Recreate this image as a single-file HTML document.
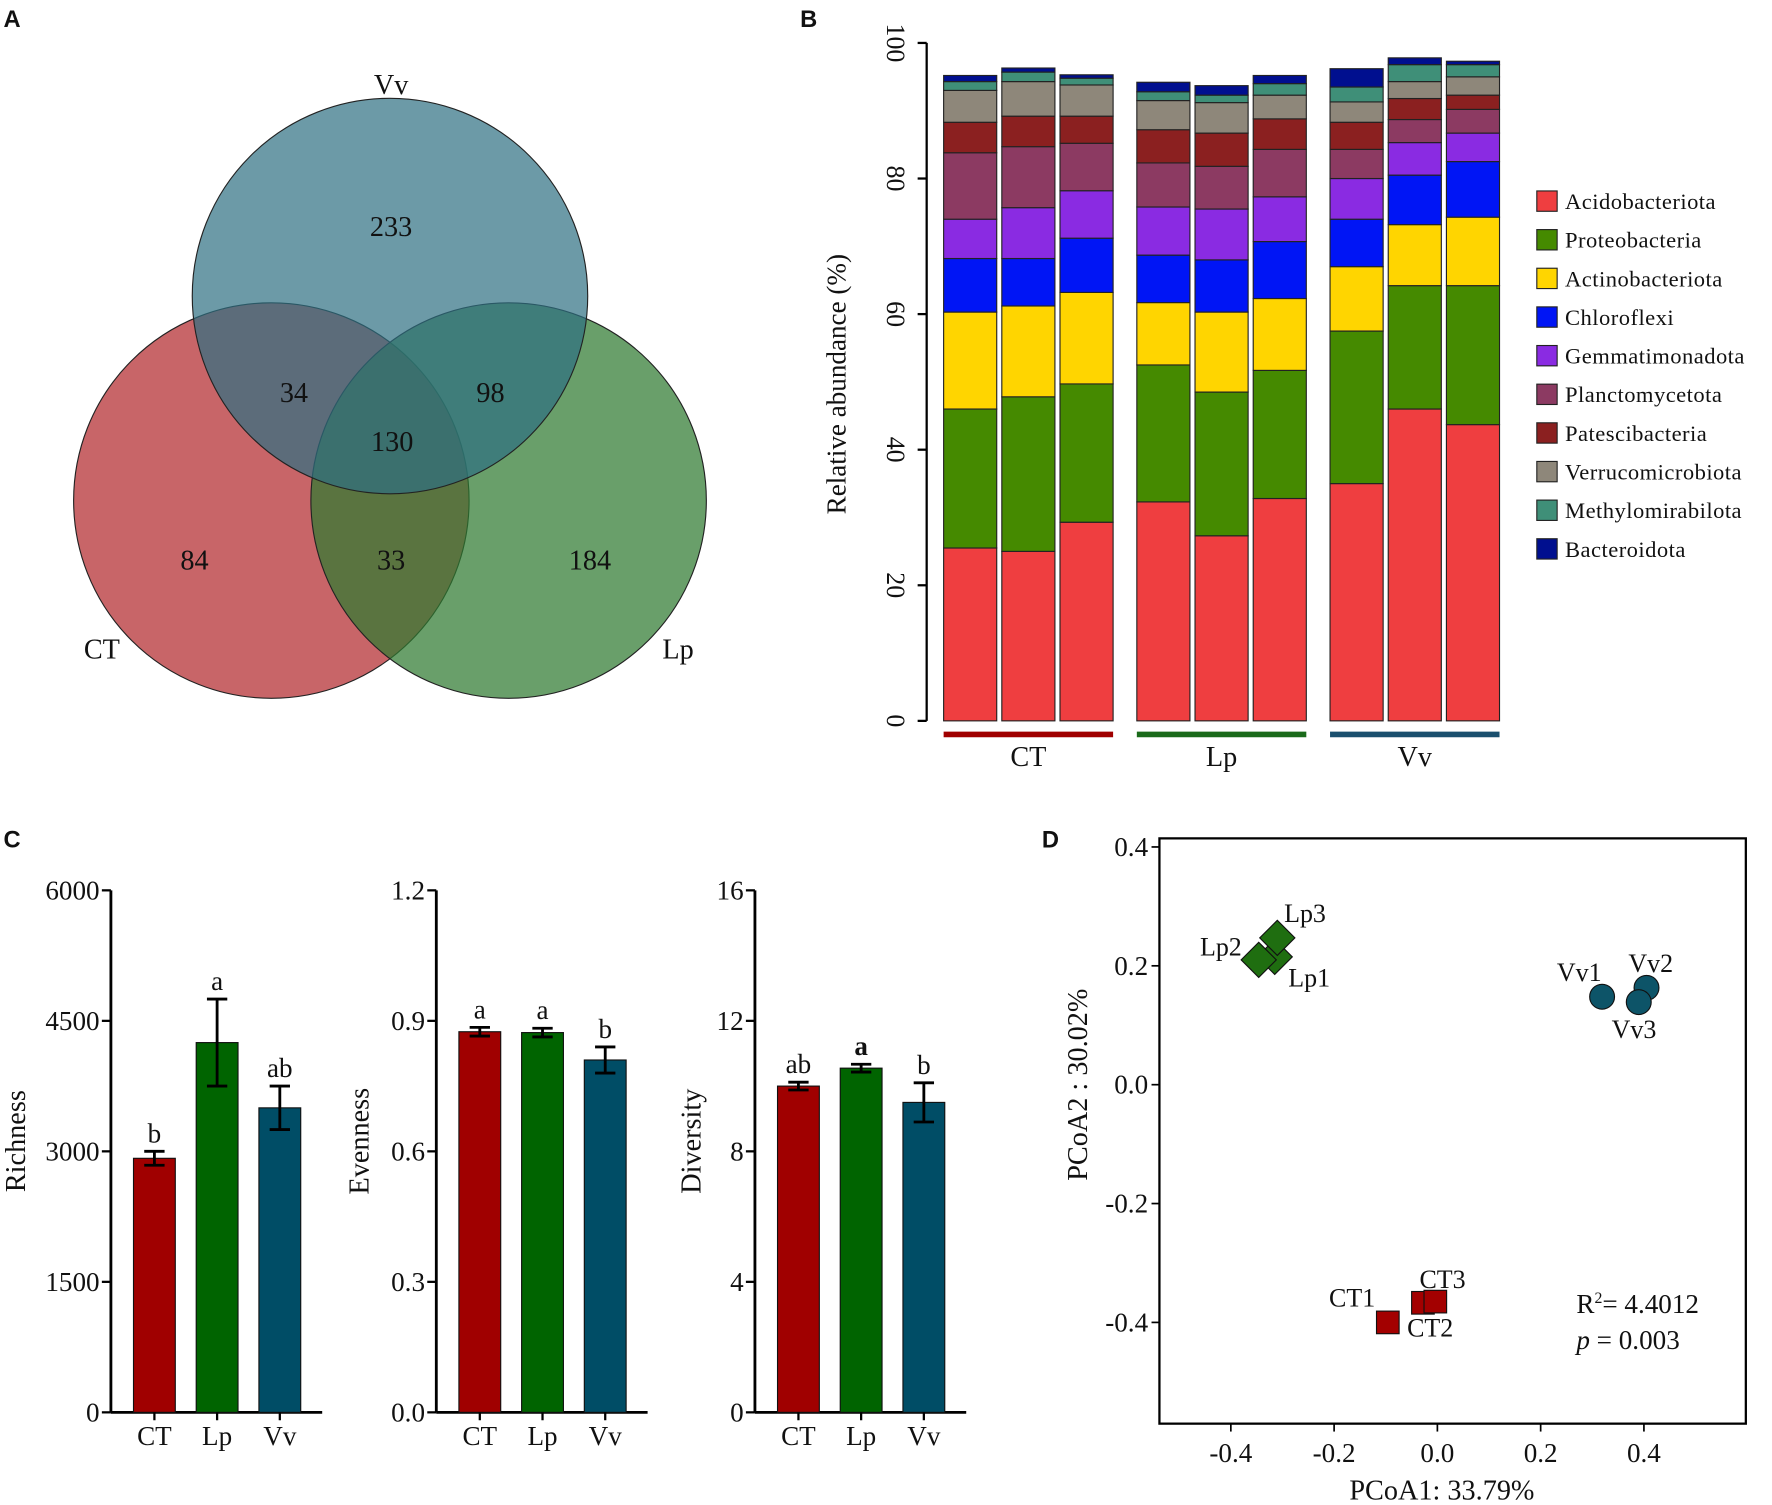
<!DOCTYPE html>
<html><head><meta charset="utf-8"><style>
html,body{margin:0;padding:0;background:#fff}
svg{display:block}
text{font-family:"Liberation Serif",serif;fill:#111}
.lbl{font-family:"Liberation Sans",sans-serif;font-weight:bold;font-size:21px}
</style></head><body>
<svg id="fig" xmlns="http://www.w3.org/2000/svg" width="1772" height="1505" viewBox="0 0 1568 1332">
<text class="lbl" x="3" y="24">A</text>
<text class="lbl" x="708" y="24">B</text>
<text class="lbl" x="3" y="750">C</text>
<text class="lbl" x="922" y="750">D</text>
<g id="venn">
<circle cx="240" cy="443" r="175" fill="#b93a3e" fill-opacity="0.78" stroke="#222" stroke-width="1"/>
<circle cx="450" cy="443" r="175" fill="#2f7a30" fill-opacity="0.72" stroke="#222" stroke-width="1"/>
<circle cx="345" cy="262" r="175" fill="#2e6f82" fill-opacity="0.7" stroke="#222" stroke-width="1"/>
<g font-size="25" text-anchor="middle">
<text x="346" y="209">233</text>
<text x="260" y="356">34</text>
<text x="434" y="356">98</text>
<text x="347" y="399">130</text>
<text x="172" y="504">84</text>
<text x="346" y="504">33</text>
<text x="522" y="504">184</text>
<text x="346" y="83">Vv</text>
<text x="90" y="583">CT</text>
<text x="600" y="583">Lp</text>
</g></g>
<g id="pb"></g>
<g id="pc"></g>
<g id="pd"></g>
</svg>
<script>
const NS="http://www.w3.org/2000/svg";
function mk(p,t,a,txt){const e=document.createElementNS(NS,t);for(const k in a)e.setAttribute(k,a[k]);if(txt!==undefined)e.textContent=txt;p.appendChild(e);return e;}
// ---- Panel B data ----
const phyla=["Acidobacteriota","Proteobacteria","Actinobacteriota","Chloroflexi","Gemmatimonadota","Planctomycetota","Patescibacteria","Verrucomicrobiota","Methylomirabilota","Bacteroidota"];
const phylaColors=["#ef3e40","#458a00","#ffd500","#0015f5","#8a2be2","#8c3a62","#8b2020","#8e877a","#3f8f78","#000f8f"];
const samples=["CT1","CT2","CT3","Lp1","Lp2","Lp3","Vv1","Vv2","Vv3"];
const sCT1=[25.5,20.5,14.3,7.9,5.8,9.8,4.5,4.7,1.3,0.9];
const sCT2=[25,22.8,13.4,7,7.5,9,4.5,5.1,1.4,0.6];
const sCT3=[29.3,20.4,13.5,8,7,7,4,4.6,1,0.5];
const sLp1=[32.3,20.2,9.2,7,7.1,6.5,4.9,4.3,1.3,1.4];
const sLp2=[27.3,21.2,11.8,7.7,7.5,6.3,4.9,4.5,1.1,1.4];
const sLp3=[32.8,18.9,10.6,8.4,6.6,7,4.5,3.5,1.7,1.2];
const sVv1=[35,22.5,9.5,7,6,4.3,4,3,2.2,2.7];
const sVv2=[46,18.2,9,7.3,4.8,3.4,3.1,2.5,2.5,1];
const sVv3=[43.7,20.5,10.1,8.2,4.2,3.5,2.1,2.7,1.8,0.5];
const stackData=[sCT1,sCT2,sCT3,sLp1,sLp2,sLp3,sVv1,sVv2,sVv3];
const bTicks=[0,20,40,60,80,100];
const groups=["CT","Lp","Vv"];
const groupColors=["#a00000","#1a6a1a","#1a4f6e"];
// ---- Panel C data ----
const alphaCats=["CT","Lp","Vv"];
const richness=[2920,4250,3500];const richErr=[80,500,250];const richLetters=["b","a","ab"];const richTicks=[0,1500,3000,4500,6000];
const evenness=[0.875,0.873,0.81];const evenErr=[0.01,0.01,0.03];const evenLetters=["a","a","b"];const evenTicks=[0,0.3,0.6,0.9,1.2];
const diversity=[10.0,10.55,9.5];const divErr=[0.12,0.12,0.6];const divLetters=["ab","a","b"];const divTicks=[0,4,8,12,16];
const alphaColors=["#a00000","#006400","#004d66"];
// ---- Panel D data ----
const pcoaNames=["Lp1","Lp2","Lp3","Vv1","Vv2","Vv3","CT1","CT2","CT3"];
const pcoaX=[-0.315,-0.346,-0.31,0.319,0.405,0.39,-0.096,-0.028,-0.004];
const pcoaY=[0.215,0.21,0.247,0.148,0.163,0.139,-0.40,-0.367,-0.365];
const pxTicks=[-0.4,-0.2,0.0,0.2,0.4];const pyTicks=[-0.4,-0.2,0.0,0.2,0.4];

// ===== Panel B =====
(function(){
const g=document.getElementById('pb');
const y0=638,y100=38,ax=820;
const yS=v=>y0-(v/100)*(y0-y100);
const bw=47;
const bx=i=>835+Math.floor(i/3)*171+(i%3)*51.5;
mk(g,'line',{x1:ax,y1:y100,x2:ax,y2:y0,stroke:'#000','stroke-width':2});
bTicks.forEach(t=>{const y=yS(t);mk(g,'line',{x1:ax-8,y1:y,x2:ax,y2:y,stroke:'#000','stroke-width':2});
 const tx=mk(g,'text',{x:790,y:y,'font-size':23,'text-anchor':'middle',transform:`rotate(90 790 ${y})`,'dominant-baseline':'middle'},String(t));
 });
const yt=mk(g,'text',{x:748,y:340,'font-size':24,'text-anchor':'middle',transform:'rotate(-90 748 340)'},'Relative abundance (%)');

stackData.forEach((vals,i)=>{let cum=0;vals.forEach((v,j)=>{const r=mk(g,'rect',{x:bx(i),y:yS(cum+v),width:bw,height:yS(cum)-yS(cum+v),fill:phylaColors[j],stroke:'#222','stroke-width':1});
 cum+=v;});});
groups.forEach((gr,k)=>{const x1=bx(k*3),x2=bx(k*3+2)+bw;
 const l=mk(g,'line',{x1:x1,y1:650,x2:x2,y2:650,stroke:groupColors[k],'stroke-width':5});
 const t=mk(g,'text',{x:(x1+x2)/2,y:678,'font-size':25,'text-anchor':'middle'},gr);});
phyla.forEach((p,j)=>{const y=178+j*34.2;
 const r=mk(g,'rect',{x:1360,y:y-9,width:18,height:18,fill:phylaColors[j],stroke:'#222','stroke-width':1});
 const t=mk(g,'text',{x:1385,y:y+7,'font-size':20,'letter-spacing':'0.4'},p);});
})();

// ===== Panel C =====
function alphaChart(ax,vals,errs,letters,ticks,title,tname,boldIdx,titleX){
 const g=document.getElementById('pc');
 const yb=1250,yt=788,max=ticks[ticks.length-1];
 const yS=v=>yb-(v/max)*(yb-yt);
 mk(g,'line',{x1:ax,y1:yt,x2:ax,y2:yb,stroke:'#000','stroke-width':2.5});
 mk(g,'line',{x1:ax,y1:yb,x2:ax+187,y2:yb,stroke:'#000','stroke-width':2.5});
 ticks.forEach(t=>{const y=yS(t);mk(g,'line',{x1:ax-8,y1:y,x2:ax,y2:y,stroke:'#000','stroke-width':2});
  const s=(max<=2)?t.toFixed(1):String(t);
  const e=mk(g,'text',{x:ax-10,y:y+8,'font-size':24,'text-anchor':'end'},s);});
 const tt=mk(g,'text',{x:titleX,y:1010,'font-size':25,'text-anchor':'middle',transform:`rotate(-90 ${titleX} 1010)`},title);
 
 vals.forEach((v,i)=>{const x=ax+20+i*55.5,w=37,cx=x+w/2;
  const r=mk(g,'rect',{x:x,y:yS(v),width:w,height:yb-yS(v),fill:alphaColors[i],stroke:'#111','stroke-width':1});
  
  const hi=yS(v+errs[i]),lo=yS(v-errs[i]);
  mk(g,'line',{x1:cx,y1:hi,x2:cx,y2:lo,stroke:'#000','stroke-width':2.5});
  mk(g,'line',{x1:cx-9,y1:hi,x2:cx+9,y2:hi,stroke:'#000','stroke-width':2.5});
  mk(g,'line',{x1:cx-9,y1:lo,x2:cx+9,y2:lo,stroke:'#000','stroke-width':2.5});
  const l=mk(g,'text',{x:cx,y:hi-8,'font-size':24,'text-anchor':'middle','font-weight':(i===boldIdx?'bold':'normal')},letters[i]);
  
  mk(g,'line',{x1:cx,y1:yb,x2:cx,y2:yb+7,stroke:'#000','stroke-width':2});
  const c=mk(g,'text',{x:cx,y:1279,'font-size':24,'text-anchor':'middle'},alphaCats[i]);});
}
alphaChart(98,richness,richErr,richLetters,richTicks,'Richness','richness',-1,22);
alphaChart(386,evenness,evenErr,evenLetters,evenTicks,'Evenness','evenness',-1,326);
alphaChart(668,diversity,divErr,divLetters,divTicks,'Diversity','diversity',1,620);

// ===== Panel D =====
(function(){
const g=document.getElementById('pd');
const L=1026,R=1545,T=742,B=1260;
const xS=v=>1272+v*457, yS=v=>960-v*526;
const box=mk(g,'rect',{x:L,y:T,width:R-L,height:B-T,fill:'none',stroke:'#000','stroke-width':2});

pxTicks.forEach(t=>{const x=xS(t);mk(g,'line',{x1:x,y1:B,x2:x,y2:B+7,stroke:'#000','stroke-width':1.5});
 const e=mk(g,'text',{x:x,y:B+34,'font-size':24,'text-anchor':'middle'},t.toFixed(1));});
pyTicks.forEach(t=>{const y=yS(t);mk(g,'line',{x1:L-7,y1:y,x2:L,y2:y,stroke:'#000','stroke-width':1.5});
 const e=mk(g,'text',{x:L-10,y:y+8,'font-size':24,'text-anchor':'end'},t.toFixed(1));});
const xt=mk(g,'text',{x:1276,y:1327,'font-size':25,'text-anchor':'middle'},'PCoA1: 33.79%');
const yt=mk(g,'text',{x:962,y:960,'font-size':25,'text-anchor':'middle','xml:space':'preserve',transform:'rotate(-90 962 960)'},'PCoA2 :  30.02%');
const lblOff={Lp1:[12,26],Lp2:[-52,-4],Lp3:[6,-14],Vv1:[-40,-14],Vv2:[-16,-14],Vv3:[-24,32],CT1:[-52,-14],CT2:[-14,30],CT3:[-14,-12]};
pcoaNames.forEach((n,i)=>{const x=xS(pcoaX[i]),y=yS(pcoaY[i]);let m;
 if(n.startsWith('Lp'))m=mk(g,'rect',{x:x-11,y:y-11,width:22,height:22,fill:'#1f6e10',stroke:'#111','stroke-width':1,transform:`rotate(45 ${x} ${y})`});
 else if(n.startsWith('Vv'))m=mk(g,'circle',{cx:x,cy:y,r:11,fill:'#0d5468',stroke:'#111','stroke-width':1});
 else m=mk(g,'rect',{x:x-10,y:y-10,width:20,height:20,fill:'#a30000',stroke:'#111','stroke-width':1});
 
 const o=lblOff[n];const t=mk(g,'text',{x:x+o[0],y:y+o[1],'font-size':23},n);});
const r2=mk(g,'text',{x:1395,y:1162,'font-size':24},'');r2.innerHTML='R<tspan font-size="14" dy="-9">2</tspan><tspan dy="9">= 4.4012</tspan>';

const pv=mk(g,'text',{x:1395,y:1194,'font-size':24},'');pv.innerHTML='<tspan font-style="italic">p</tspan> = 0.003';

})();
</script>
</body></html>
